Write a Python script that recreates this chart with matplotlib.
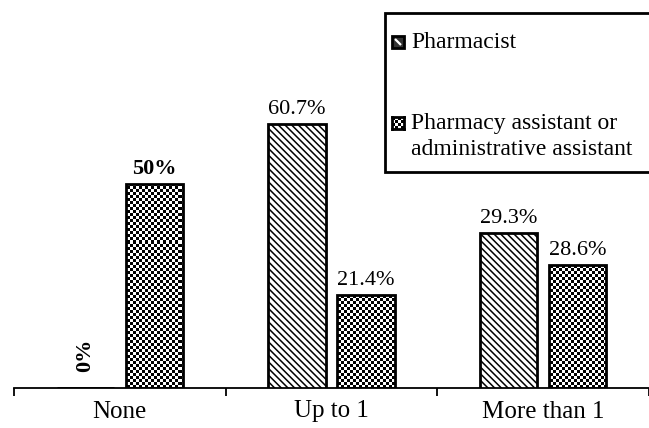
import numpy as np
import matplotlib
matplotlib.use("Agg")
import matplotlib.pyplot as plt
from matplotlib.patches import Rectangle

# ---- data ----
categories = ["None", "Up to 1", "More than 1"]
series_names = ["Pharmacist", "Pharmacy assistant or\nadministrative assistant"]
# bar heights as drawn in the picture (percentage-point units)
pharmacist_values = [0.0, 61.4, 36.0]
assistant_values = [47.4, 21.6, 28.6]
# value labels as printed on the chart
pharmacist_labels = ["0%", "60.7%", "29.3%"]
assistant_labels = ["50%", "21.4%", "28.6%"]

W, H = 649, 428
fig = plt.figure(figsize=(W / 100, H / 100), dpi=100)
plt.rcParams['font.family'] = ['Liberation Serif', 'DejaVu Serif']
plt.rcParams['hatch.linewidth'] = 1.1

def px_box(x0, y0, x1, y1):
    # pixel coords (top-left origin) -> figure fraction [l, b, w, h]
    return [x0 / W, 1 - y1 / H, (x1 - x0) / W, (y1 - y0) / H]

ax = fig.add_axes(px_box(14, 0, 649, 388))
ax.set_xlim(-0.5, 2.467)
ax.set_ylim(0, 388 / 4.3)

x = np.arange(len(categories))
bw = 0.271
off = 0.1636

pb = ax.bar(x - off, pharmacist_values, bw, facecolor='white', edgecolor='black',
            hatch='\\' * 5, linewidth=2.0, zorder=3)
ab = ax.bar(x + off, assistant_values, bw, facecolor='none', edgecolor='black',
            linewidth=2.0, zorder=4)

# checkerboard fill for assistant bars
xl = ax.get_xlim(); yl = ax.get_ylim()
nx, ny = int(635 / 3), int(388 / 3)
checker = (np.add.outer(np.arange(ny), np.arange(nx)) % 2).astype(float)
for rect in ab:
    if rect.get_height() <= 0:
        continue
    im = ax.imshow(checker, cmap='gray', vmin=0, vmax=1, interpolation='nearest',
                   extent=[xl[0], xl[1], yl[0], yl[1]], aspect='auto', zorder=2,
                   origin='lower')
    im.set_clip_path(rect)
ax.set_xlim(xl); ax.set_ylim(yl)

# value labels
for rect, lab in zip(pb, pharmacist_labels):
    cx = rect.get_x() + rect.get_width() / 2
    h = rect.get_height()
    if h <= 0:
        ax.annotate(lab, (cx, 0), xytext=(0, 16), textcoords='offset pixels',
                    ha='center', va='bottom', rotation=90, fontsize=16,
                    fontweight='bold')
    else:
        ax.annotate(lab, (cx, h), xytext=(0, 5), textcoords='offset pixels',
                    ha='center', va='bottom', fontsize=16)
for rect, lab in zip(ab, assistant_labels):
    cx = rect.get_x() + rect.get_width() / 2
    h = rect.get_height()
    ax.annotate(lab, (cx, h), xytext=(0, 5), textcoords='offset pixels',
                ha='center', va='bottom', fontsize=16,
                fontweight='bold' if lab == "50%" else 'normal')

# axes styling
for s in ['top', 'right', 'left']:
    ax.spines[s].set_visible(False)
ax.spines['bottom'].set_linewidth(1.3)
ax.set_yticks([])
ax.set_xticks(np.arange(len(categories) + 1) - 0.5)
ax.set_xticklabels([])
ax.tick_params(axis='x', which='major', direction='out', length=6, width=1.3)
ax.set_xticks(x, minor=True)
ax.set_xticklabels(categories, minor=True, fontsize=18)
ax.tick_params(axis='x', which='minor', length=0, pad=9)

# legend (manual)
leg_ax = fig.add_axes([0, 0, 1, 1], facecolor='none')
leg_ax.set_xlim(0, W); leg_ax.set_ylim(H, 0)
leg_ax.axis('off')
leg_ax.add_patch(Rectangle((385, 13), 280, 159, facecolor='white', edgecolor='black',
                           linewidth=2.0, clip_on=False))
leg_ax.add_patch(Rectangle((392, 36), 12, 12, facecolor='#333333', edgecolor='black',
                           linewidth=2.0))
leg_ax.plot([395, 401], [39, 45], color='white', lw=1.6, solid_capstyle='butt')
leg_ax.text(411, 42, series_names[0], fontsize=17, va='center', ha='left')
mk = fig.add_axes(px_box(392, 117, 404, 129))
mk.imshow((np.add.outer(np.arange(4), np.arange(4)) % 2), cmap='gray',
          interpolation='nearest', aspect='auto')
mk.set_xticks([]); mk.set_yticks([])
for s in mk.spines.values():
    s.set_linewidth(2.0)
leg_ax.text(411, 136.5, series_names[1], fontsize=17, va='center', ha='left',
            linespacing=1.3)

fig.savefig("out.png", dpi=100)
